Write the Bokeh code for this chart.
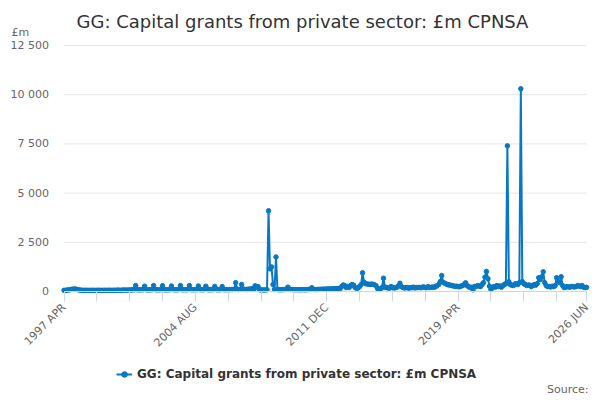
import math
from bokeh.plotting import figure
from bokeh.models import (Range1d, FixedTicker, Label, Legend, LegendItem,
                          ColumnDataSource)
from bokeh.embed import file_html
from bokeh.resources import INLINE

TITLE = "GG: Capital grants from private sector: £m CPNSA"
SERIES_NAME = "GG: Capital grants from private sector: £m CPNSA"
UNIT = "£m"
SOURCE = "Source:"
MONTH_NAMES = ["JAN", "FEB", "MAR", "APR", "MAY", "JUN",
               "JUL", "AUG", "SEP", "OCT", "NOV", "DEC"]
START_YEAR = 1997
START_MONTH = 4
X_TICK_LABELS = ["1997 APR", "2004 AUG", "2011 DEC", "2019 APR", "2026 JUN"]
X_TICK_STEP = 22
Y_TICKS = [0, 2500, 5000, 7500, 10000, 12500]

# monthly values, £m (1997 APR .. 2026 JUN)
v1997 = [60, 60, 70, 80, 90, 110, 120, 130, 120]
v1998 = [100, 80, 70, 65, 60, 60, 62, 60, 58, 60, 60, 62]
v1999 = [55, 60, 65, 60, 55, 60, 62, 58, 60, 65, 60, 60]
v2000 = [60, 65, 60, 70, 65, 60, 70, 75, 70, 70, 75, 80]
v2001 = [80, 85, 90, 300, 90, 85, 85, 90, 90, 270, 90, 85]
v2002 = [85, 90, 90, 300, 95, 85, 85, 90, 90, 290, 90, 85]
v2003 = [85, 90, 90, 280, 95, 90, 85, 90, 95, 300, 90, 90]
v2004 = [90, 90, 95, 300, 95, 90, 90, 95, 90, 280, 95, 90]
v2005 = [90, 95, 270, 100, 90, 90, 95, 90, 260, 95, 90, 90]
v2006 = [95, 250, 95, 90, 95, 90, 95, 100, 100, 110, 450, 120]
v2007 = [100, 110, 360, 120, 110, 100, 110, 120, 130, 140, 110, 290]
v2008 = [200, 250, 90, 80, 80, 80, 80, 90, 4100, 1150, 1250, 350]
v2009 = [100, 1750, 100, 90, 90, 90, 100, 100, 120, 220, 120, 100]
v2010 = [100, 90, 90, 95, 90, 90, 90, 95, 90, 90, 95, 100]
v2011 = [120, 190, 110, 100, 100, 105, 110, 110, 115, 120, 120, 125]
v2012 = [130, 130, 135, 140, 140, 145, 150, 150, 150, 250, 330, 300]
v2013 = [200, 260, 200, 300, 350, 320, 200, 160, 180, 250, 350, 950]
v2014 = [470, 400, 380, 370, 360, 380, 360, 340, 300, 150, 120, 130]
v2015 = [200, 675, 220, 200, 180, 170, 250, 200, 180, 190, 220, 280]
v2016 = [420, 250, 200, 180, 190, 200, 170, 200, 190, 220, 180, 200]
v2017 = [200, 210, 190, 220, 230, 200, 190, 250, 200, 210, 230, 220]
v2018 = [250, 300, 350, 500, 810, 470, 420, 380, 350, 330, 320, 300]
v2019 = [280, 260, 270, 250, 240, 280, 300, 350, 440, 300, 250, 200]
v2020 = [220, 85, 260, 250, 300, 280, 250, 350, 450, 730, 1015, 650]
v2021 = [270, 100, 200, 250, 220, 300, 250, 280, 220, 300, 350, 400]
v2022 = [7400, 500, 350, 320, 300, 380, 400, 350, 450, 10300, 500, 400]
v2023 = [350, 300, 330, 320, 250, 300, 350, 320, 400, 700, 600, 750]
v2024 = [1000, 450, 300, 250, 250, 230, 270, 250, 300, 700, 500, 450]
v2025 = [750, 300, 200, 220, 250, 230, 220, 260, 240, 230, 250, 300]
v2026 = [280, 250, 300, 220, 200, 210]

values = (v1997 + v1998 + v1999 + v2000 + v2001 + v2002 + v2003 + v2004 +
          v2005 + v2006 + v2007 + v2008 + v2009 + v2010 + v2011 + v2012 +
          v2013 + v2014 + v2015 + v2016 + v2017 + v2018 + v2019 + v2020 +
          v2021 + v2022 + v2023 + v2024 + v2025 + v2026)

months = []
for k in range(len(values)):
    mm = START_MONTH - 1 + k
    months.append(f"{START_YEAR + mm // 12} {MONTH_NAMES[mm % 12]}")
idx = list(range(len(values)))
n = len(values)

FONT = "DejaVu Sans"
COLOR = "#0a77c2"

# layout (pixels): canvas and the plotting area inside it
W, H = 598, 398
PL, PR, PT, PB = 63.5, 586.0, 45.0, 291.0
YMAX = Y_TICKS[-1]
sx = (PR - PL) / (n - 1)
sy = (PB - PT) / YMAX
x_range = Range1d(-PL / sx, (n - 1) + (W - PR) / sx)
y_range = Range1d(-(H - PB) / sy, YMAX + PT / sy)

p = figure(width=W, height=H, output_backend="svg", toolbar_location=None,
           x_range=x_range, y_range=y_range, min_border=0)
p.min_border_left = p.min_border_right = 0
p.min_border_top = p.min_border_bottom = 0
p.outline_line_color = None
p.background_fill_color = "white"
p.border_fill_color = "white"
p.xgrid.visible = False
p.ygrid.visible = False

# horizontal grid lines across the data extent
p.segment(x0=[0] * len(Y_TICKS), x1=[n - 1] * len(Y_TICKS),
          y0=Y_TICKS, y1=Y_TICKS, line_color="#e6e6e6", line_width=1)

src = ColumnDataSource(dict(x=idx, y=values, month=months))
lr = p.line("x", "y", source=src, line_color=COLOR, line_width=2)
sr = p.scatter("x", "y", source=src, size=4.5, fill_color=COLOR,
               line_color=COLOR)

# x axis at y = 0
xt = list(range(0, n, X_TICK_STEP))
if xt[-1] != n - 1:
    xt.append(n - 1)
xa = p.xaxis[0]
xa.fixed_location = 0
xa.bounds = (0, n - 1)
xa.ticker = FixedTicker(ticks=xt)
xa.major_label_overrides = {
    t: (months[t] if months[t] in X_TICK_LABELS else "") for t in xt}
xa.major_label_orientation = math.pi / 4
xa.axis_line_color = "#ccd6eb"
xa.major_tick_line_color = "#ccd6eb"
xa.major_tick_out = 10
xa.major_tick_in = 0
xa.minor_tick_line_color = None
xa.major_label_text_font = FONT
xa.major_label_text_font_size = "11px"
xa.major_label_text_color = "#666666"
xa.major_label_standoff = 4

# y axis at x = 0
ya = p.yaxis[0]
ya.fixed_location = 0
ya.bounds = (0, YMAX)
ya.ticker = FixedTicker(ticks=Y_TICKS)
ya.major_label_overrides = {t: f"{t:,}".replace(",", " ") for t in Y_TICKS}
ya.axis_line_color = None
ya.major_tick_line_color = None
ya.minor_tick_line_color = None
ya.major_tick_out = 0
ya.major_tick_in = 0
ya.major_label_standoff = 15
ya.major_label_text_font = FONT
ya.major_label_text_font_size = "11px"
ya.major_label_text_color = "#666666"

# texts (screen units, from the bottom-left of the plotting frame)
p.add_layout(Label(x=302, y=H - 20.5, x_units="screen", y_units="screen",
                   text=TITLE, text_align="center",
                   text_baseline="alphabetic", text_font=FONT,
                   text_font_size="18px", text_color="#333333"))
p.add_layout(Label(x=11, y=H - 32, x_units="screen", y_units="screen",
                   text=UNIT, text_align="left", text_baseline="alphabetic",
                   text_font=FONT, text_font_size="11px",
                   text_color="#666666"))
p.add_layout(Label(x=588, y=H - 389, x_units="screen", y_units="screen",
                   text=SOURCE, text_align="right",
                   text_baseline="alphabetic", text_font=FONT,
                   text_font_size="11px", text_color="#666666"))

legend = Legend(items=[LegendItem(label=SERIES_NAME, renderers=[lr, sr])],
                location=(116, H - 381), orientation="horizontal",
                glyph_width=16, glyph_height=14, label_height=14,
                label_standoff=5, padding=0, margin=0,
                border_line_color=None, background_fill_alpha=0,
                label_text_font=FONT, label_text_font_size="12px",
                label_text_font_style="bold", label_text_color="#333333")
p.add_layout(legend)

open("out.html", "w").write(file_html(p, INLINE))
